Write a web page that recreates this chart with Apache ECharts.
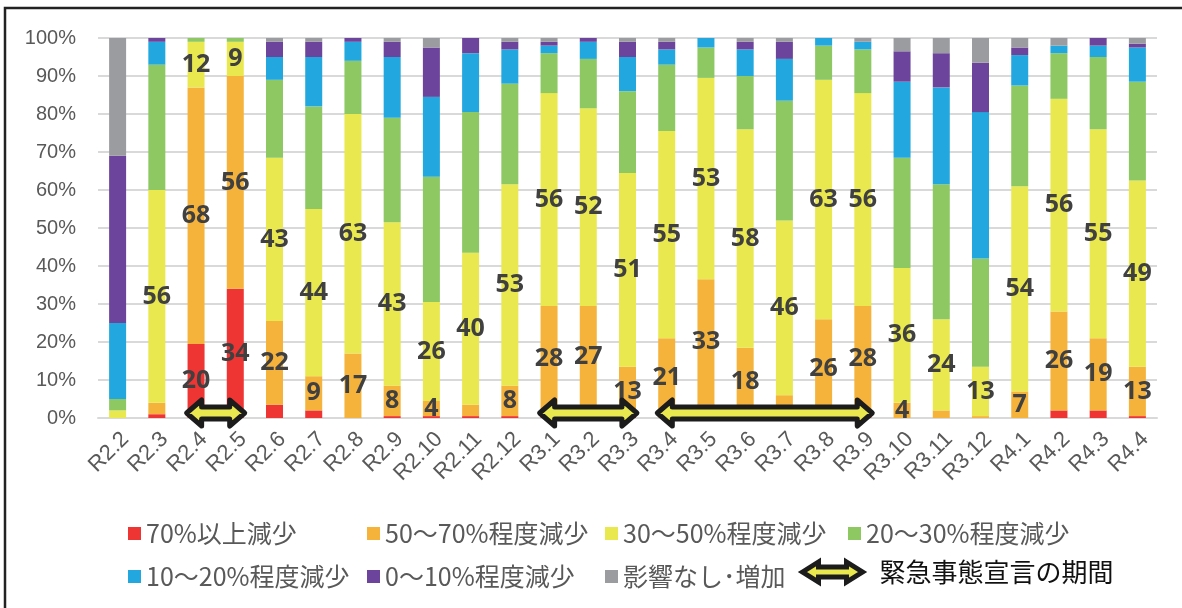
<!DOCTYPE html>
<html>
<head>
    <meta charset="utf-8">
    <title>ECharts</title>
    <script src="https://cdn.jsdelivr.net/npm/echarts@6/dist/echarts.min.js"></script>
    <style>html, body { margin: 0; padding: 0; background: #fff; }</style>
</head>
<body>
<div id="main" style="width: 1182px;height:608px;"></div>
<script type="text/javascript">

        // 月（令和）
        var months = ['R2.2', 'R2.3', 'R2.4', 'R2.5', 'R2.6', 'R2.7', 'R2.8', 'R2.9', 'R2.10', 'R2.11', 'R2.12',
                      'R3.1', 'R3.2', 'R3.3', 'R3.4', 'R3.5', 'R3.6', 'R3.7', 'R3.8', 'R3.9', 'R3.10', 'R3.11', 'R3.12',
                      'R4.1', 'R4.2', 'R4.3', 'R4.4'];

        var seriesNames = ['70%以上減少', '50～70%程度減少', '30～50%程度減少', '20～30%程度減少',
                           '10～20%程度減少', '0～10%程度減少', '影響なし･増加'];

        // 構成比（%）
        var over70   = [0, 1, 19.5, 34, 3.5, 2, 0, 0.5, 0.5, 0.5, 0.5, 1.5, 2.5, 0.5, 0, 3.5, 0.5, 0, 0, 1.5, 0, 0, 0, 0, 2, 2, 0.5];
        var from50   = [0, 3, 67.5, 56, 22, 9, 17, 8, 4, 3, 8, 28, 27, 13, 21, 33, 18, 6, 26, 28, 4, 2, 0.5, 7, 26, 19, 13];
        var from30   = [2, 56, 12, 9, 43, 44, 63, 43, 26, 40, 53, 56, 52, 51, 54.5, 53, 57.5, 46, 63, 56, 35.5, 24, 13, 54, 56, 55, 49];
        var from20   = [3, 33, 1, 1, 20.5, 27, 14, 27.5, 33, 37, 26.5, 10.5, 13, 21.5, 17.5, 8, 14, 31.5, 9, 11.5, 29, 35.5, 28.5, 26.5, 12, 19, 26];
        var from10   = [20, 6, 0, 0, 6, 13, 5, 16, 21, 15.5, 9, 2, 4.5, 9, 4, 2.5, 7, 11, 2, 2, 20, 25.5, 38.5, 8, 2, 3, 9];
        var from0    = [44, 1, 0, 0, 4, 4, 1, 4, 13, 4, 2, 1, 1, 4, 2, 0, 2, 4.5, 0, 0, 8, 9, 13, 2, 0, 2, 1];
        var noEffect = [31, 0, 0, 0, 1, 1, 0, 1, 2.5, 0, 1, 1, 0, 1, 1, 0, 1, 1, 0, 1, 3.5, 4, 6.5, 2.5, 2, 0, 1.5];

        // 数値ラベルを出す月
        var over70Labeled = ['R2.4', 'R2.5'];
        var from50Unlabeled = ['R2.2', 'R2.3', 'R2.11', 'R3.7', 'R3.11', 'R3.12'];
        var from30Unlabeled = ['R2.2'];

        // 緊急事態宣言の期間
        var periodStart = ['R2.4', 'R3.1', 'R3.4'];
        var periodEnd   = ['R2.5', 'R3.3', 'R3.9'];
        var periodName  = '緊急事態宣言の期間';

        var colors = ['#EF3434', '#F5B33C', '#E9E84F', '#8DC863', '#22A7DF', '#6D449C', '#9B9CA0'];

        function makeData(values, showFn){
            return values.map(function(v, i){
                return {value: v, label: {show: showFn(months[i])}};
            });
        }

        function renderArrow(params, api){
            var s = api.coord([api.value(0), 0]);
            var e = api.coord([api.value(1), 0]);
            var bw = api.size([1, 0])[0];
            var x1 = s[0] - bw * 0.24, x2 = e[0] + bw * 0.24;
            var y = s[1] - 5;
            var hh = 13, sh = 6, hl = 15;
            return {
                type: 'polygon',
                shape: {points: [
                    [x1, y], [x1 + hl, y - hh], [x1 + hl, y - sh], [x2 - hl, y - sh], [x2 - hl, y - hh],
                    [x2, y], [x2 - hl, y + hh], [x2 - hl, y + sh], [x1 + hl, y + sh], [x1 + hl, y + hh]
                ]},
                style: {fill: '#E9E84F', stroke: '#1c1c1c', lineWidth: 5, lineJoin: 'round'}
            };
        }

        var arrowPath = 'path://M0,10 L16,0 L16,5 L44,5 L44,0 L60,10 L44,20 L44,15 L16,15 L16,20 Z';

        var valueLabel = {
            position: 'inside',
            color: '#404040',
            fontWeight: 'bold',
            fontSize: 25,
            fontFamily: "'Liberation Sans Narrow', 'Noto Sans', sans-serif",
            formatter: function(p){ return Math.round(p.value); }
        };

        var seriesValues = [over70, from50, from30, from20, from10, from0, noEffect];
        var showFns = [
            function(m){ return over70Labeled.indexOf(m) >= 0; },
            function(m){ return from50Unlabeled.indexOf(m) < 0; },
            function(m){ return from30Unlabeled.indexOf(m) < 0; },
            function(){ return false; },
            function(){ return false; },
            function(){ return false; },
            function(){ return false; }
        ];

        var series = seriesValues.map(function(vals, k){
            return {
                name: seriesNames[k],
                type: 'bar',
                stack: 'total',
                barWidth: 17,
                itemStyle: {color: colors[k]},
                label: valueLabel,
                data: makeData(vals, showFns[k])
            };
        });

        series.push({
            name: periodName,
            type: 'custom',
            renderItem: renderArrow,
            clip: false,
            z: 10,
            itemStyle: {color: '#E9E84F', borderColor: '#1c1c1c', borderWidth: 5},
            encode: {x: [0, 1], y: 2},
            data: periodStart.map(function(st, i){
                return [months.indexOf(st), months.indexOf(periodEnd[i]), 0];
            })
        });

        var legendBase = {
            padding: 0,
            itemWidth: 13,
            itemHeight: 13,
            icon: 'rect',
            selectedMode: false,
            textStyle: {fontSize: 25, color: '#595959', fontFamily: "'Noto Sans CJK JP', sans-serif"}
        };
        var legendPos = [[128, 521], [367, 521], [605, 521], [848, 521], [128, 564], [367, 564], [605, 564]];
        var legends = seriesNames.map(function(n, i){
            return Object.assign({}, legendBase, {data: [n], left: legendPos[i][0], top: legendPos[i][1]});
        });
        legends.push(Object.assign({}, legendBase, {
            left: 800, top: 559, itemWidth: 60, itemHeight: 32,
            data: [{name: periodName, icon: arrowPath,
                    itemStyle: {color: '#E9E84F', borderColor: '#1c1c1c', borderWidth: 5},
                    textStyle: {color: '#111', fontSize: 26, padding: [0, 0, 0, 12],
                                fontFamily: "'Noto Sans CJK JP', sans-serif"}}]
        }));

        var option = {
            animation: false,
            grid: {left: 98, right: 25, top: 38, bottom: 190},
            legend: legends,
            xAxis: {
                type: 'category',
                data: months,
                axisTick: {show: false},
                axisLine: {lineStyle: {color: '#d9d9d9', width: 2}},
                axisLabel: {
                    rotate: 45, margin: 10, interval: 0, verticalAlign: 'top',
                    color: '#595959', fontSize: 22, fontFamily: "'Liberation Sans', Arial, sans-serif"
                }
            },
            yAxis: {
                type: 'value',
                min: 0, max: 100, interval: 10,
                axisLine: {show: false},
                axisTick: {show: false},
                splitLine: {lineStyle: {color: '#d9d9d9', width: 2}},
                axisLabel: {
                    formatter: '{value}%', margin: 22,
                    color: '#595959', fontSize: 20, fontFamily: "'Liberation Sans', Arial, sans-serif"
                }
            },
            graphic: [{
                type: 'rect', silent: true,
                shape: {x: 5, y: 8, width: 1300, height: 700},
                style: {fill: null, stroke: '#222', lineWidth: 2.5}
            }],
            series: series
        };

        var myChart = echarts.init(document.getElementById('main'));
        myChart.setOption(option);

</script>
</body>
</html>
